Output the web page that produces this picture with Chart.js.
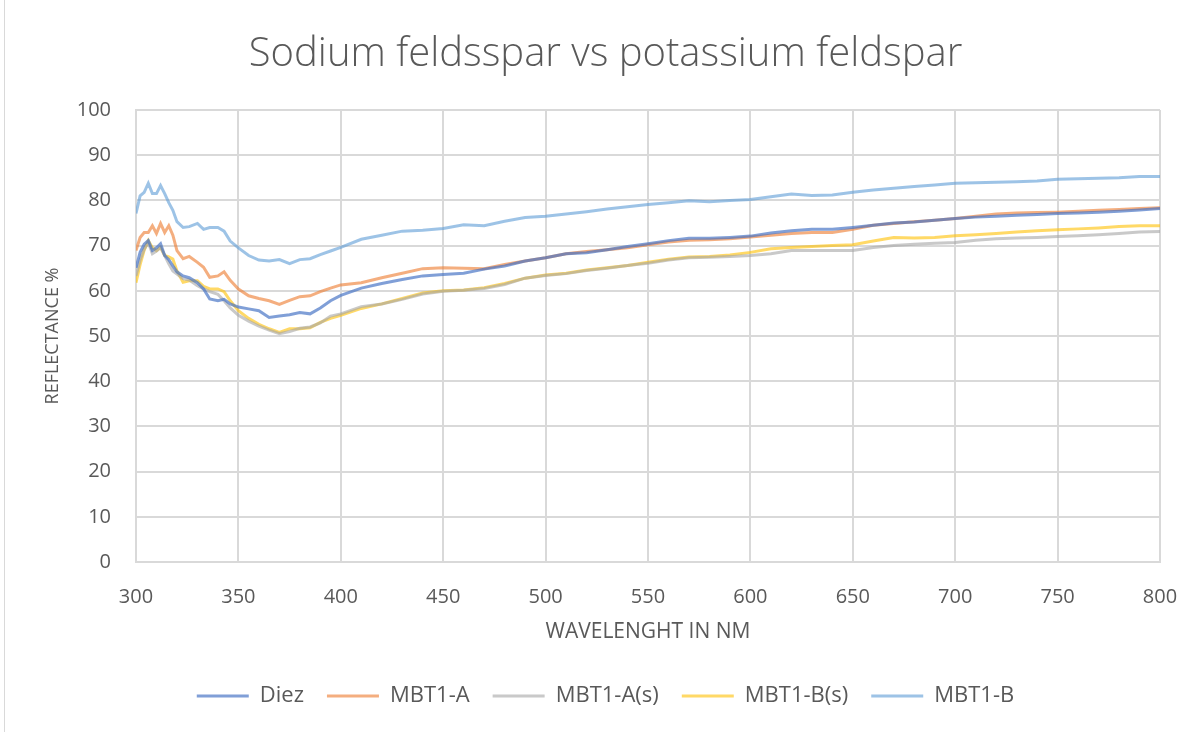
<!DOCTYPE html>
<html>
<head>
<meta charset="utf-8">
<title>Sodium feldsspar vs potassium feldspar</title>
<script src="https://cdn.jsdelivr.net/npm/chart.js@4.4.1/dist/chart.umd.min.js"></script>
<style>
    html, body { margin: 0; padding: 0; background: #ffffff; }
    #wrap { position: relative; width: 1201px; height: 732px; }
    #frame { position: absolute; left: 4px; top: 0; width: 0; height: 732px; border-left: 1px solid #d9d9d9; }
    canvas { position: absolute; left: 0; top: 0; }
</style>
</head>
<body>
<div id="wrap">
    <div id="frame"></div>
    <canvas id="chart" width="1201" height="732"></canvas>
</div>
<script>
// Data
const wavelengths = [300, 302, 304, 306, 308, 310, 312, 314, 316, 318, 320, 323, 326, 330, 333, 336, 340, 343, 346, 350,
    355, 360, 365, 370, 375, 380, 385, 390, 395, 400, 410, 420, 430, 440, 450, 460, 470, 480, 490, 500,
    510, 520, 530, 540, 550, 560, 570, 580, 590, 600, 610, 620, 630, 640, 650, 660, 670, 680, 690, 700,
    710, 720, 730, 740, 750, 760, 770, 780, 790, 800];

const diez = [65.1, 68.5, 70.3, 71.1, 68.9, 69.5, 70.4, 67.8, 66.9, 65.5, 64.2, 63.3, 62.9, 61.8, 60.4, 58.2, 57.8, 58.1, 57.1, 56.4,
    56.0, 55.6, 54.1, 54.4, 54.7, 55.2, 54.9, 56.2, 57.8, 59.0, 60.6, 61.6, 62.5, 63.3, 63.6, 63.9, 64.8, 65.5, 66.6, 67.3,
    68.2, 68.4, 69.1, 69.8, 70.4, 71.1, 71.6, 71.6, 71.8, 72.1, 72.8, 73.3, 73.6, 73.6, 74.0, 74.5, 75.0, 75.2, 75.6, 76.0,
    76.3, 76.5, 76.7, 76.9, 77.1, 77.2, 77.4, 77.6, 77.9, 78.2];

const mbt1A = [68.9, 71.8, 72.9, 72.9, 74.4, 72.7, 74.9, 72.9, 74.4, 72.3, 68.9, 67.1, 67.6, 66.3, 65.2, 63.0, 63.3, 64.2, 62.3, 60.4,
    58.9, 58.3, 57.8, 57.0, 57.9, 58.7, 58.9, 59.8, 60.6, 61.3, 61.8, 62.9, 63.9, 64.9, 65.1, 65.0, 64.9, 65.8, 66.6, 67.3,
    68.2, 68.7, 69.1, 69.5, 70.2, 70.8, 71.2, 71.3, 71.5, 71.9, 72.3, 72.7, 72.9, 72.9, 73.6, 74.5, 74.9, 75.3, 75.6, 76.0,
    76.5, 77.0, 77.2, 77.3, 77.4, 77.6, 77.8, 78.0, 78.2, 78.4];

const mbt1As = [63.3, 66.8, 69.2, 70.7, 68.2, 68.8, 69.6, 67.8, 66.0, 64.4, 63.7, 62.7, 62.4, 61.1, 60.4, 59.8, 59.2, 57.8, 56.2, 54.6,
    53.3, 52.2, 51.3, 50.5, 51.0, 51.7, 52.0, 52.9, 54.4, 54.9, 56.5, 57.1, 58.1, 59.3, 59.9, 60.1, 60.5, 61.4, 62.8, 63.4,
    63.8, 64.5, 65.0, 65.6, 66.1, 66.8, 67.3, 67.4, 67.6, 67.8, 68.2, 68.9, 68.9, 68.9, 68.9, 69.6, 70.0, 70.3, 70.5, 70.7,
    71.2, 71.5, 71.7, 71.8, 72.0, 72.2, 72.4, 72.7, 73.0, 73.1];

const mbt1Bs = [61.8, 65.8, 69.0, 71.1, 69.5, 68.9, 69.6, 67.8, 67.5, 67.0, 64.4, 61.9, 62.2, 62.2, 61.0, 60.4, 60.4, 59.8, 57.8, 55.6,
    53.9, 52.6, 51.6, 50.8, 51.6, 51.6, 51.8, 53.0, 53.9, 54.6, 56.1, 57.1, 58.3, 59.5, 60.0, 60.2, 60.7, 61.6, 62.8, 63.5,
    63.9, 64.6, 65.1, 65.6, 66.3, 67.0, 67.5, 67.6, 67.9, 68.5, 69.3, 69.6, 69.8, 70.0, 70.2, 71.0, 71.8, 71.7, 71.8, 72.2,
    72.4, 72.7, 73.0, 73.3, 73.5, 73.7, 73.9, 74.2, 74.4, 74.4];

const mbt1B = [77.1, 81.0, 81.8, 83.8, 81.5, 81.5, 83.3, 81.5, 79.5, 77.8, 75.3, 74.0, 74.2, 74.9, 73.6, 74.0, 74.0, 73.2, 71.0, 69.5,
    67.8, 66.8, 66.6, 66.9, 66.0, 66.9, 67.1, 68.0, 68.8, 69.6, 71.4, 72.3, 73.2, 73.4, 73.8, 74.6, 74.4, 75.4, 76.2, 76.5,
    77.0, 77.5, 78.1, 78.6, 79.1, 79.5, 79.9, 79.7, 80.0, 80.2, 80.8, 81.4, 81.1, 81.2, 81.8, 82.3, 82.7, 83.1, 83.4, 83.8,
    83.9, 84.0, 84.1, 84.3, 84.7, 84.8, 84.9, 85.0, 85.3, 85.3];

const seriesNames = ['Diez', 'MBT1-A', 'MBT1-A(s)', 'MBT1-B(s)', 'MBT1-B'];
const seriesValues = [diez, mbt1A, mbt1As, mbt1Bs, mbt1B];
const seriesColors = [
    'rgba(68, 114, 196, 0.68)',
    'rgba(237, 125, 49, 0.62)',
    'rgba(165, 165, 165, 0.6)',
    'rgba(255, 192, 0, 0.6)',
    'rgba(91, 155, 213, 0.6)'
];

const textColor = '#595959';
const gridColor = '#d9d9d9';
const fontFamily = '"Open Sans", sans-serif';

function toPoints(values) {
    return wavelengths.map((w, i) => ({ x: w, y: values[i] }));
}

const datasets = seriesNames.map((name, i) => ({
    label: name,
    data: toPoints(seriesValues[i]),
    borderColor: seriesColors[i],
    backgroundColor: seriesColors[i],
    borderWidth: 3,
    pointRadius: 0,
    pointHoverRadius: 0,
    tension: 0,
    fill: false
}));

const ctx = document.getElementById('chart').getContext('2d');
new Chart(ctx, {
    type: 'line',
    data: { datasets: datasets },
    options: {
        responsive: false,
        animation: false,
        layout: {
            padding: { left: 10, right: 0, top: 0, bottom: 15 }
        },
        plugins: {
            title: {
                display: true,
                text: 'Sodium feldsspar vs potassium feldspar',
                color: textColor,
                font: { family: fontFamily, size: 40, weight: '300' },
                padding: { top: 31, bottom: 31 }
            },
            legend: {
                position: 'bottom',
                labels: {
                    color: textColor,
                    font: { family: fontFamily, size: 22 },
                    usePointStyle: true,
                    pointStyle: 'line',
                    pointStyleWidth: 52,
                    boxWidth: 52,
                    padding: 23
                }
            },
            tooltip: { enabled: false }
        },
        scales: {
            x: {
                type: 'linear',
                min: 300,
                max: 800,
                afterFit: (scale) => { scale.height = 100; },
                ticks: {
                    stepSize: 50,
                    color: textColor,
                    font: { family: fontFamily, size: 20 },
                    padding: 23,
                    maxRotation: 0
                },
                grid: { color: gridColor, lineWidth: 2, drawTicks: false },
                border: { display: true, color: gridColor, width: 2 },
                title: {
                    display: true,
                    text: 'WAVELENGHT IN NM',
                    color: textColor,
                    font: { family: fontFamily, size: 21 },
                    padding: { top: 0, bottom: 17 }
                }
            },
            y: {
                min: 0,
                max: 100,
                afterFit: (scale) => { scale.width = 126; },
                ticks: {
                    stepSize: 10,
                    color: textColor,
                    font: { family: fontFamily, size: 20 },
                    padding: 25
                },
                grid: { color: gridColor, lineWidth: 2, drawTicks: false },
                border: { display: true, color: gridColor, width: 2 },
                title: {
                    display: true,
                    text: 'REFLECTANCE %',
                    color: textColor,
                    font: { family: fontFamily, size: 18 },
                    padding: { top: 32, bottom: 0 }
                }
            },
            // empty right-hand spacer so the plot ends at the same place as the reference
            spacer: {
                type: 'linear',
                position: 'right',
                min: 0,
                max: 100,
                afterFit: (scale) => { scale.width = 41; },
                ticks: { display: false },
                grid: { display: false, drawOnChartArea: false },
                border: { display: false }
            }
        }
    }
});
</script>
</body>
</html>
